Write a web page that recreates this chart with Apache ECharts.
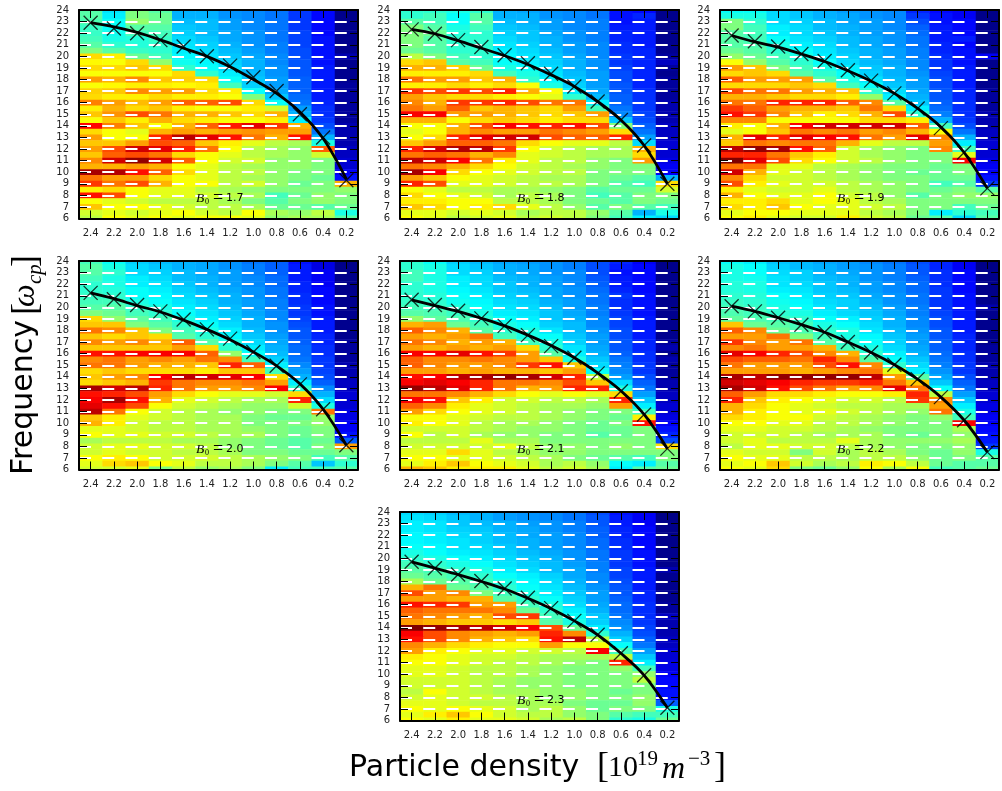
<!DOCTYPE html>
<html><head><meta charset="utf-8">
<style>html,body{margin:0;padding:0;background:#fff}#c{width:1002px;height:791px}</style>
<script src="https://cdn.jsdelivr.net/npm/echarts@6/dist/echarts.min.js"></script></head>
<body><div id="c"></div>
<script>
const densityLabels=['2.4','2.2','2.0','1.8','1.6','1.4','1.2','1.0','0.8','0.6','0.4','0.2'];
const freqTop=24, freqBottom=6, rowStep=0.5;
const fieldNames=['1.7','1.8','1.9','2.0','2.1','2.2','2.3'];
// rows listed from frequency 24 down to 6 in steps of 0.5
const field17=[
[46,35,50,46,30,30,27,26,24,18,13,5],[46,36,50,48,30,30,27,26,24,18,13,5],[45,38,52,48,31,31,28,26,24,18,13,5],[43,38,46,46,32,31,28,26,24,18,13,5],
[43,39,44,44,33,31,29,27,24,19,13,5],[44,40,41,43,34,32,29,27,24,19,14,5],[46,42,41,42,35,33,30,27,25,19,14,5],[50,46,43,42,36,34,31,28,25,20,14,6],
[66,64,48,44,37,35,32,29,26,20,14,8],[63,62,66,52,39,37,33,30,26,21,14,6],[66,66,68,66,42,38,34,30,27,21,15,6],[62,62,62,62,66,42,36,31,27,21,15,6],
[72,70,74,68,67,66,38,32,28,22,15,6],[62,63,64,64,63,64,44,33,28,22,15,7],[67,68,74,72,72,66,64,38,29,22,15,7],[66,64,64,66,64,64,62,50,32,23,15,7],
[75,72,69,72,78,78,80,66,38,24,16,7],[64,70,66,68,64,62,62,64,58,28,17,7],[68,73,80,76,70,70,68,66,70,30,17,7],[62,68,64,70,66,64,62,62,64,36,18,7],
[87,75,68,62,70,78,85,90,82,70,20,8],[66,62,60,70,72,70,72,73,72,72,24,8],[72,62,62,84,94,90,86,76,70,86,30,8],[68,68,72,80,78,68,64,60,56,54,40,8],
[72,80,92,90,84,76,62,56,54,52,78,9],[68,78,80,76,66,62,60,56,54,52,58,9],[74,92,98,92,78,62,58,58,52,52,50,10],[70,70,72,70,62,60,56,54,52,52,50,10],
[96,95,86,78,66,60,56,56,52,50,50,12],[76,72,72,66,62,60,56,54,52,50,48,14],[82,76,80,70,62,62,56,58,52,48,50,70],[64,66,62,60,60,56,54,52,50,50,50,52],
[86,80,62,60,60,58,56,54,44,48,52,50],[62,60,58,56,56,56,54,50,46,50,52,50],[68,62,62,60,58,56,56,54,48,48,46,48],[58,60,58,60,62,58,56,62,54,52,56,40],
[56,62,60,62,60,62,62,60,52,54,54,46]];
const field18=[
[42,42,40,42,30,29,27,26,24,14,13,5],[42,44,38,46,30,30,27,26,24,14,16,5],[46,44,38,46,31,30,28,26,25,14,15,5],[50,46,40,44,32,31,28,26,25,15,15,5],
[50,48,41,42,33,32,29,27,25,16,15,5],[50,46,42,42,34,32,30,27,25,16,15,5],[50,46,42,42,35,33,30,28,26,17,15,6],[48,46,42,42,36,34,31,28,26,17,16,6],
[56,50,44,42,37,35,32,29,26,18,16,7],[66,68,46,44,38,36,33,30,27,18,16,9],[70,70,67,48,40,38,34,30,27,19,16,7],[64,64,64,66,44,40,35,31,28,20,16,6],
[76,72,72,68,70,42,37,32,28,20,16,7],[64,64,66,64,66,62,40,33,28,21,16,7],[82,80,82,80,84,70,62,36,29,21,17,7],[72,68,66,66,64,62,60,42,31,22,17,7],
[74,70,82,82,84,80,76,76,36,22,18,8],[76,72,78,68,70,68,66,72,44,24,18,8],[88,88,72,72,70,68,66,68,72,26,19,8],[70,70,62,66,68,66,64,66,66,32,20,8],
[62,62,70,80,88,86,84,86,80,50,22,9],[60,62,70,74,72,72,76,74,72,66,24,9],[62,66,84,90,92,92,80,78,78,84,28,9],[68,72,78,78,76,66,62,60,60,56,34,10],
[84,92,95,94,82,62,58,56,54,54,70,10],[76,78,76,70,74,60,58,56,54,54,66,10],[94,92,88,76,64,60,56,56,52,50,72,11],[76,74,70,66,62,58,56,54,52,50,50,12],
[96,88,66,62,60,58,56,56,50,50,50,12],[72,68,62,60,58,56,54,54,50,48,46,30],[84,80,60,60,58,56,56,54,50,46,44,66],[62,60,56,56,54,54,52,50,46,48,48,58],
[66,62,60,58,54,56,54,50,44,46,50,50],[64,64,62,62,56,56,54,50,48,46,50,48],[68,66,62,64,66,60,56,52,46,50,46,44],[60,60,58,60,58,54,56,56,52,46,30,40],
[62,60,56,58,60,56,58,56,50,44,36,34]];
const field19=[
[38,38,34,32,30,28,27,26,16,13,12,4],[40,40,34,32,30,29,27,26,18,14,12,4],[50,42,34,33,31,29,28,26,20,14,13,4],[50,44,36,34,31,30,28,26,22,15,13,4],
[46,44,36,34,32,30,28,27,23,15,13,5],[46,44,38,35,33,31,29,27,24,15,15,5],[46,45,40,36,34,31,29,27,24,16,13,5],[48,46,42,38,35,32,30,28,25,16,14,6],
[52,48,44,40,36,33,30,28,25,17,14,12],[62,52,46,42,38,34,31,29,26,18,14,6],[72,68,50,44,40,36,32,30,26,18,15,6],[66,68,66,46,42,38,33,30,27,19,15,6],
[78,72,72,72,46,40,35,31,28,20,15,6],[66,66,66,68,66,44,38,32,28,20,15,6],[80,76,76,72,70,68,42,34,29,21,16,7],[70,70,68,66,66,64,52,36,30,21,16,7],
[76,76,84,84,84,78,74,46,32,22,17,7],[82,78,72,70,70,68,76,66,36,23,17,7],[86,82,74,68,64,66,70,80,42,25,17,8],[74,74,62,62,62,62,66,66,64,30,18,8],
[64,62,70,88,92,92,92,92,78,44,20,8],[60,62,68,76,74,76,72,74,70,62,24,9],[70,90,84,90,88,86,76,72,90,74,30,9],[68,76,74,76,76,70,60,56,56,72,36,10],
[94,98,96,86,78,58,54,52,50,74,44,10],[84,84,76,68,64,58,54,52,50,50,60,10],[100,90,80,66,62,58,56,52,50,50,88,11],[76,76,60,60,56,54,52,50,50,48,50,12],
[92,70,60,58,56,54,52,50,48,48,50,12],[74,66,58,58,56,54,52,50,50,48,48,14],[80,64,60,58,58,56,54,52,50,44,46,18],[64,60,58,58,60,56,54,52,50,48,50,46],
[70,62,60,60,62,58,56,52,46,50,52,52],[64,64,66,60,62,60,56,54,50,50,50,50],[66,64,68,62,60,60,58,56,50,50,44,48],[60,62,62,60,60,60,56,54,50,36,42,44],
[62,64,60,58,58,64,58,56,48,46,34,46]];
const field20=[
[44,38,33,31,30,29,27,24,22,14,11,4],[46,40,34,32,30,29,27,25,22,15,11,4],[46,42,34,33,31,29,28,25,22,15,12,4],[44,40,36,34,31,30,28,26,23,15,12,4],
[42,40,36,35,32,30,28,26,23,16,12,4],[42,41,38,36,33,31,29,27,24,16,13,4],[43,42,38,37,34,32,30,27,24,17,13,5],[44,44,40,38,35,33,30,28,25,17,13,5],
[46,46,42,40,36,34,31,28,25,18,14,5],[50,48,44,42,38,35,32,29,26,18,14,6],[66,52,47,44,40,36,33,30,26,19,15,6],[68,68,50,46,42,38,34,30,27,20,15,6],
[76,74,68,50,44,40,36,31,27,21,15,6],[68,66,68,66,46,42,37,32,28,21,16,6],[74,72,74,70,78,46,40,34,29,22,16,7],[68,68,68,68,72,66,42,36,30,23,17,7],
[86,86,88,88,88,78,52,38,31,23,17,7],[74,76,72,74,72,76,74,44,33,24,18,7],[76,76,72,70,70,68,84,78,36,26,18,8],[66,68,66,66,66,64,68,68,44,28,19,8],
[68,72,74,88,94,92,90,88,66,30,20,8],[66,68,70,82,76,74,74,76,72,36,22,9],[96,92,94,84,76,72,72,74,88,42,26,9],[86,84,80,72,66,62,60,60,58,66,30,10],
[88,96,86,70,60,58,56,54,54,84,34,10],[90,86,80,62,58,56,54,52,52,58,40,10],[94,76,62,58,56,54,52,52,50,50,76,11],[68,64,60,58,56,54,54,50,48,48,52,11],
[70,64,58,56,56,54,54,50,50,50,52,12],[60,60,58,56,56,54,54,52,50,48,50,12],[62,60,60,58,58,56,54,54,50,48,50,14],[54,56,56,56,54,54,52,50,48,46,48,22],
[58,60,60,58,58,56,52,50,48,46,50,72],[58,60,58,58,56,56,54,50,50,48,48,50],[62,64,62,58,58,58,56,54,52,50,44,46],[60,66,68,62,60,56,56,54,50,46,32,42],
[58,58,60,50,56,52,54,50,36,44,44,46]];
const field21=[
[42,38,33,31,29,28,27,25,20,16,12,4],[42,40,34,32,30,29,27,25,20,15,13,4],[44,40,34,33,30,29,27,26,20,14,13,5],[44,40,36,34,31,30,28,26,21,15,13,5],
[42,40,36,34,32,30,28,26,22,15,13,5],[42,40,37,35,32,31,29,27,23,16,13,5],[42,41,38,36,33,32,29,27,24,18,14,5],[43,42,39,37,34,33,30,28,24,17,14,5],
[44,43,41,38,35,34,31,28,25,17,14,6],[46,45,43,40,36,35,32,29,25,18,14,6],[52,47,45,42,38,36,32,30,26,19,15,6],[70,72,48,44,40,38,33,31,26,19,15,6],
[78,74,70,46,42,40,35,31,27,20,15,6],[72,70,72,76,44,40,38,32,28,20,15,6],[76,74,70,72,70,44,40,33,28,21,16,7],[72,70,72,70,72,66,42,35,29,21,16,8],
[88,88,90,86,82,72,46,36,30,22,17,6],[78,74,74,76,74,72,68,40,32,24,17,8],[78,74,72,72,74,82,86,68,34,25,18,7],[72,72,70,72,70,70,68,72,38,26,18,7],
[86,88,94,96,98,96,92,84,56,28,20,7],[88,90,88,84,76,76,74,80,68,34,22,8],[98,94,90,84,76,70,72,84,84,40,24,8],[76,76,74,70,66,62,60,62,60,66,28,9],
[88,86,68,64,58,58,56,56,54,84,32,9],[78,74,64,60,58,56,54,54,52,72,36,10],[72,66,62,60,58,56,54,52,50,50,44,10],[62,62,60,58,56,56,54,52,50,48,64,11],
[64,62,60,56,54,54,52,50,48,50,86,12],[58,58,58,56,54,52,52,50,48,48,50,14],[62,56,58,54,52,52,50,50,46,48,50,16],[56,56,56,60,54,54,50,50,50,50,50,20],
[58,58,58,58,60,56,52,52,50,52,50,66],[60,60,66,60,56,54,52,52,50,50,50,50],[62,62,60,60,58,56,54,50,48,46,44,50],[60,64,68,62,60,58,54,56,52,38,36,46],
[70,68,64,64,64,60,56,58,54,36,46,48]];
const field22=[
[38,36,32,31,29,28,26,24,20,16,12,3],[40,38,33,31,30,28,27,25,21,16,12,3],[40,38,34,33,30,29,27,25,21,17,13,4],[40,39,35,33,31,30,27,25,22,17,13,4],
[41,40,35,34,32,30,28,26,23,17,13,4],[41,40,36,35,32,31,28,26,23,18,13,4],[42,41,38,36,33,32,29,27,24,18,14,4],[43,42,39,37,34,33,30,27,24,18,14,5],
[44,43,40,38,35,33,31,28,25,18,14,8],[45,44,42,40,36,34,32,29,25,19,15,5],[47,45,44,42,38,36,33,30,26,20,15,6],[68,48,46,44,40,38,34,30,26,20,15,6],
[78,74,48,45,42,40,35,31,27,21,15,6],[72,72,76,50,44,40,37,32,28,21,16,6],[82,74,72,76,46,42,38,33,28,22,16,6],[74,76,72,72,70,44,40,34,29,22,16,7],
[90,88,84,80,74,70,42,36,30,23,17,7],[80,78,78,76,84,74,46,38,32,24,17,7],[76,72,72,72,80,86,74,42,34,25,18,8],[72,72,72,70,72,74,76,60,36,27,18,8],
[96,94,98,98,98,98,94,72,46,29,20,8],[92,90,88,84,82,82,84,76,68,32,22,9],[96,92,86,80,76,72,74,90,76,38,24,9],[78,72,66,66,64,62,62,64,84,56,28,10],
[84,68,64,62,60,58,58,56,82,74,32,10],[70,66,62,60,58,56,56,54,54,72,36,11],[70,64,62,60,60,58,56,54,52,76,40,11],[66,64,62,62,58,56,54,52,50,52,44,12],
[62,62,60,60,56,56,54,52,50,50,88,12],[60,60,58,58,56,54,52,50,50,50,54,13],[58,58,58,56,54,54,54,50,48,50,52,14],[58,60,56,56,56,60,54,52,52,52,54,15],
[56,60,60,58,58,56,54,52,50,50,52,18],[60,58,58,50,58,54,56,54,50,48,52,40],[62,60,60,56,56,54,56,56,52,48,50,46],[60,62,68,58,54,56,64,62,56,48,46,46],
[62,60,66,50,48,52,62,54,62,44,46,48]];
const field23=[
[34,33,31,30,28,27,26,24,20,14,12,3],[35,34,32,30,28,27,26,24,21,15,12,3],[36,35,32,31,30,28,27,25,21,15,12,4],[36,35,33,32,30,29,27,25,22,16,13,4],
[37,36,34,33,31,29,28,26,22,16,13,4],[37,36,35,33,31,30,28,26,23,17,13,4],[38,37,35,34,32,30,28,26,23,17,13,4],[40,38,36,35,33,31,29,27,24,18,14,5],
[42,40,38,36,34,32,30,27,24,18,14,5],[44,42,40,38,35,33,31,28,25,18,14,5],[46,44,42,40,36,34,31,29,25,19,15,8],[48,46,44,42,38,36,33,29,26,19,15,6],
[54,48,46,44,40,37,34,30,26,20,15,6],[70,76,48,46,42,38,35,31,27,21,15,6],[80,72,74,50,44,40,36,32,28,21,16,6],[72,72,70,70,46,42,38,33,28,22,16,6],
[86,84,82,72,72,44,40,34,29,23,17,7],[78,76,76,76,74,48,42,36,30,23,17,7],[76,74,72,70,80,82,44,38,32,24,17,9],[72,70,68,68,66,68,46,40,33,26,18,8],
[100,98,96,94,92,88,80,48,36,27,19,8],[88,80,74,72,70,72,84,74,42,30,20,8],[86,80,74,70,68,66,86,94,56,33,22,9],[74,70,66,64,62,62,72,62,62,38,24,9],
[72,64,62,60,60,58,58,56,88,44,28,10],[64,62,60,58,58,56,54,54,54,56,32,10],[62,62,60,58,56,56,54,52,50,84,36,11],[60,60,58,56,56,54,52,50,50,52,44,11],
[60,60,58,56,56,54,52,50,50,50,52,12],[58,58,58,56,54,52,52,50,50,50,56,13],[58,58,58,56,54,52,52,50,50,50,50,13],[56,62,58,56,54,54,52,52,50,48,50,14],
[58,60,58,58,56,54,52,52,50,50,52,14],[60,60,58,56,56,54,54,50,48,48,52,22],[62,60,62,60,58,54,56,52,48,50,50,40],[60,64,68,62,58,56,56,52,50,46,44,44],
[62,60,64,60,60,58,54,56,50,42,40,48]];
const fields=[field17,field18,field19,field20,field21,field22,field23];
const crosses17=[22.9,22.4,22.0,21.4,20.85,20.0,19.2,18.2,17.0,15.0,13.0,9.3];
const crosses18=[22.33,21.95,21.4,20.8,20.1,19.4,18.5,17.4,16.1,14.5,12.3,9.0];
const crosses19=[21.8,21.3,20.85,20.2,19.6,18.8,17.9,16.8,15.5,13.8,11.7,8.6];
const crosses20=[21.25,20.7,20.2,19.65,18.95,18.1,17.3,16.15,14.95,13.35,11.2,8.1];
const crosses21=[20.65,20.2,19.7,19.05,18.4,17.6,16.65,15.65,14.3,12.75,10.75,7.8];
const crosses22=[20.1,19.65,19.1,18.5,17.85,17.0,16.1,15.05,13.8,12.25,10.25,7.5];
const crosses23=[19.7,19.15,18.6,18.05,17.4,16.6,15.7,14.6,13.4,11.8,9.9,7.1];
const fit17=[22.9,22.55,22.07,21.42,20.7,20.0,19.1,18.0,16.8,15.2,12.9,9.4];
const fit18=[22.33,21.95,21.35,20.7,20.05,19.3,18.4,17.4,16.1,14.5,12.3,9.0];
const fit19=[21.8,21.25,20.8,20.2,19.55,18.75,17.85,16.8,15.5,13.9,11.7,8.6];
const fit20=[21.25,20.75,20.15,19.6,18.9,18.1,17.2,16.15,14.95,13.4,11.2,8.1];
const fit21=[20.65,20.15,19.65,19.05,18.4,17.6,16.7,15.65,14.35,12.8,10.75,7.8];
const fit22=[20.1,19.65,19.1,18.5,17.85,17.0,16.1,15.05,13.8,12.25,10.25,7.5];
const fit23=[19.7,19.15,18.6,18.0,17.35,16.55,15.65,14.6,13.4,11.8,9.9,7.1];
const crosses=[crosses17,crosses18,crosses19,crosses20,crosses21,crosses22,crosses23];
const fits=[fit17,fit18,fit19,fit20,fit21,fit22,fit23];
const jet=['#00007f','#000090','#0000ff','#003fff','#007fff','#00bfff','#00ffff','#3fffbf','#7fff7f','#bfff3f','#ffff00','#ffbf00','#ff7f00','#ff3f00','#ff0000','#bf0000','#7f0000'];

const panelW=279, panelH=208.5;
const panelPos=[[79,10],[400,10],[720,10],[79,261],[400,261],[720,261],[400,512]];
const inkLine={color:'#000',width:2};
const tick={show:true,inside:true,length:8,alignWithLabel:true,lineStyle:{color:'#000',width:1}};
const font='"DejaVu Sans"';

function renderCell(params,api){
  const c=api.value(0), y=api.value(1);
  const y1=Math.min(freqTop,y+rowStep/2), y0=Math.max(freqBottom,y-rowStep/2);
  const a=api.coord([c,y1]), b=api.coord([c,y0]), w=api.size([1,0])[0];
  return {type:'rect',shape:{x:a[0]-w/2,y:a[1],width:w+0.5,height:b[1]-a[1]+0.5},style:{fill:api.visual('color')}};
}
const grid=[],xAxis=[],yAxis=[],series=[],graphic=[],heatIdx=[];
function txt(x,y,text,size,opt){
  opt=opt||{};
  graphic.push({type:'text',x:x,y:y,rotation:opt.rot||0,z:50,silent:true,style:{text:text,fontSize:size,
    fontFamily:opt.family||font,fontStyle:opt.italic?'italic':'normal',fill:'#000',align:'left',verticalAlign:'middle'}});
}
panelPos.forEach((p,i)=>{
  const L=p[0],T=p[1];
  grid.push({left:L,top:T,width:panelW,height:panelH});
  const xa={type:'category',gridIndex:i,data:densityLabels,z:3,axisLine:{show:true,onZero:false,lineStyle:inkLine},axisTick:tick,splitLine:{show:false}};
  xAxis.push(Object.assign({},xa,{position:'bottom',axisLabel:{show:true,interval:0,fontSize:10,fontFamily:font,color:'#222',margin:10}}));
  xAxis.push(Object.assign({},xa,{position:'top',axisLabel:{show:false}}));
  const ya={type:'value',gridIndex:i,min:freqBottom,max:freqTop,interval:1,z:3,axisLine:{show:true,onZero:false,lineStyle:inkLine},axisTick:tick};
  yAxis.push(Object.assign({},ya,{position:'left',axisLabel:{show:true,fontSize:10,fontFamily:font,color:'#222',margin:10},
    splitLine:{show:true,showMinLine:false,showMaxLine:false,lineStyle:{color:'#fff',width:2,type:[12,11.25]}}}));
  yAxis.push(Object.assign({},ya,{position:'right',axisLabel:{show:false},splitLine:{show:false}}));
  const cells=[];
  fields[i].forEach((row,r)=>row.forEach((v,c)=>cells.push([c,freqTop-r*rowStep,v])));
  heatIdx.push(series.length);
  series.push({type:'custom',xAxisIndex:2*i,yAxisIndex:2*i,renderItem:renderCell,data:cells,encode:{x:0,y:1},clip:true,silent:true,z:1,animation:false});
  series.push({type:'line',xAxisIndex:2*i,yAxisIndex:2*i,data:fits[i],smooth:0.35,showSymbol:false,lineStyle:{color:'#000',width:2.8},z:5,silent:true,animation:false});
  series.push({type:'scatter',xAxisIndex:2*i,yAxisIndex:2*i,data:crosses[i],symbol:'path://M0 0L10 10M0 10L10 0',symbolSize:14,
    itemStyle:{color:'none',borderColor:'#000',borderWidth:1.3},z:6,silent:true,clip:false,animation:false});
  const by=T+188.5, serif='"Liberation Serif"';
  txt(L+117,by,'B',13.5,{family:serif,italic:true});
  txt(L+126,by+3,'0',8,{family:serif});
  txt(L+134,by,'=',18,{family:serif});
  txt(L+147,by,fieldNames[i],11);
});
// axis titles
const sf='"Liberation Serif"';
txt(349,768,'Particle density',30);
txt(597,768,'[',36,{family:sf});
txt(608,768,'10',30,{family:sf});
txt(637,759,'19',21,{family:sf});
txt(662,770,'m',32,{family:sf,italic:true});
txt(688,759,'\u22123',21,{family:sf});
txt(714,768,']',36,{family:sf});
const rot=Math.PI/2;
txt(24,475,'Frequency',30,{rot:rot});
txt(27,315,'[',36,{rot:rot,family:sf});
txt(26,307,'\u03c9',32,{rot:rot,family:sf,italic:true});
txt(35,284,'cp',21,{rot:rot,family:sf,italic:true});
txt(27,267,']',36,{rot:rot,family:sf});

const chart=echarts.init(document.getElementById('c'),null,{renderer:'canvas'});
chart.setOption({animation:false,backgroundColor:'#fff',grid,xAxis,yAxis,series,graphic,
  visualMap:{show:false,type:'continuous',min:0,max:100,dimension:2,seriesIndex:heatIdx,inRange:{color:jet}}});
</script></body></html>
